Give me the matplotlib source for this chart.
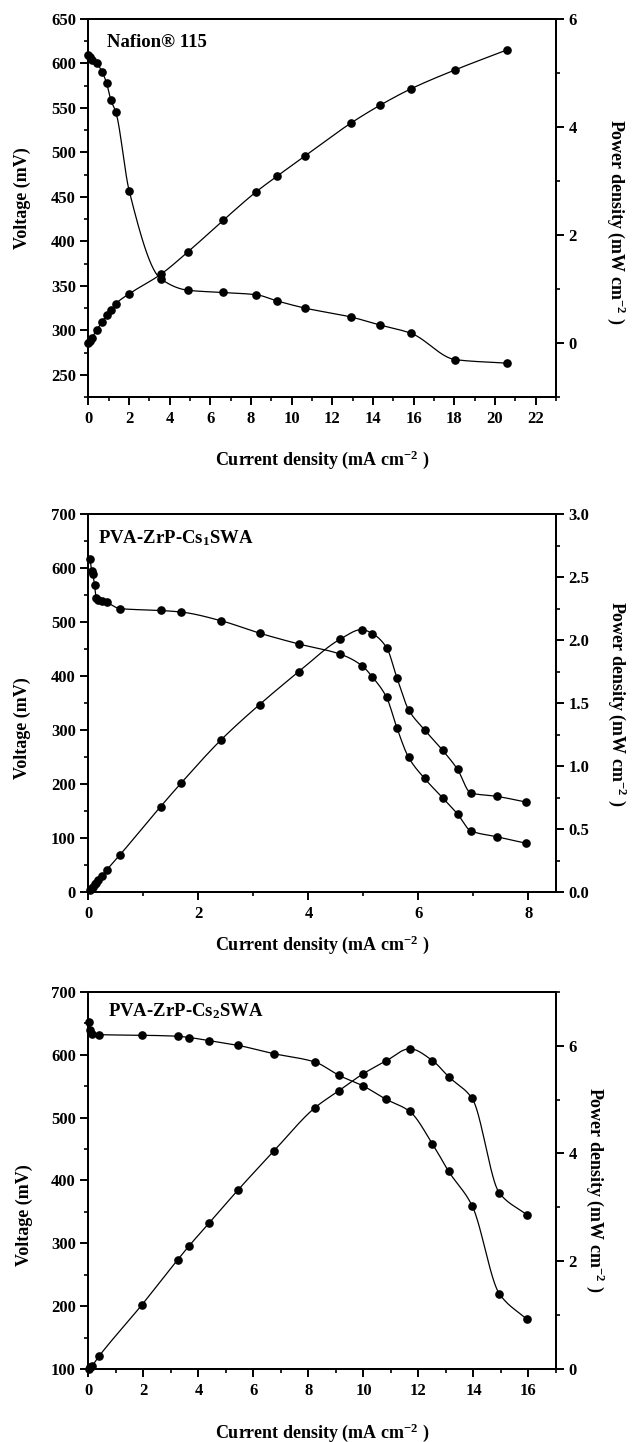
import numpy as np
import matplotlib
matplotlib.use("Agg")
import matplotlib.pyplot as plt
from matplotlib.ticker import MultipleLocator, FormatStrFormatter

# ---- data: current density (mA cm-2), voltage (mV), power density (mW cm-2) ----
nafion_j = [0.0, 0.05, 0.17, 0.41, 0.66, 0.89, 1.10, 1.35, 2.00, 3.55, 4.90, 6.62,
            8.25, 9.28, 10.64, 12.90, 14.33, 15.88, 18.05, 20.60]
nafion_v = [610, 607, 604, 600, 591, 578, 559, 545, 457, 358, 345, 342.5,
            340, 333, 325, 315, 306, 296.5, 267, 263]
nafion_p = [0.0, 0.03, 0.10, 0.24, 0.39, 0.51, 0.61, 0.73, 0.91, 1.27, 1.69, 2.27,
            2.80, 3.09, 3.46, 4.07, 4.40, 4.71, 5.06, 5.43]

cs1_j = [0.027, 0.058, 0.077, 0.11, 0.14, 0.18, 0.24, 0.33, 0.57, 1.31, 1.69, 2.41,
         3.11, 3.82, 4.58, 4.97, 5.16, 5.42, 5.61, 5.82, 6.11, 6.44, 6.71, 6.95,
         7.42, 7.95]
cs1_v = [617, 596, 590, 569, 546, 542, 540, 537, 525.5, 522, 519, 503,
         480, 460, 441, 420, 399, 361, 304, 250, 211, 175, 145, 114,
         103, 91]
cs1_p = [0.017, 0.035, 0.045, 0.063, 0.076, 0.098, 0.13, 0.177, 0.296, 0.68, 0.87, 1.21,
         1.49, 1.75, 2.01, 2.086, 2.054, 1.943, 1.70, 1.45, 1.29, 1.127, 0.976, 0.789,
         0.762, 0.717]

cs2_j = [0.02, 0.07, 0.11, 0.38, 1.93, 3.24, 3.66, 4.40, 5.43, 6.73, 8.24, 9.10,
         10.00, 10.81, 11.68, 12.51, 13.10, 13.95, 14.94, 15.93]
cs2_v = [651, 639, 633, 631.5, 630.6, 629, 627, 622, 614.6, 601.4, 588, 567,
         549.8, 529.2, 509.7, 458, 414.3, 360, 220.3, 180]
cs2_p = [0.01, 0.045, 0.06, 0.245, 1.19, 2.03, 2.29, 2.72, 3.32, 4.04, 4.85, 5.16,
         5.48, 5.71, 5.94, 5.72, 5.42, 5.02, 3.27, 2.87]

titles = ["Nafion\u00ae 115", "PVA-ZrP-Cs$_1$SWA", "PVA-ZrP-Cs$_2$SWA"]
xlabel = "Current density (mA cm$^{-2}$ )"
vlabel = "Voltage (mV)"
plabel = "Power density (mW cm$^{-2}$ )"

plt.rcParams.update({
    "font.family": ["Liberation Serif", "DejaVu Serif"],
    "font.weight": "bold",
    "mathtext.fontset": "custom",
    "mathtext.rm": "Liberation Serif:bold",
    "mathtext.it": "Liberation Serif:italic:bold",
    "mathtext.bf": "Liberation Serif:bold",
    "mathtext.default": "rm",
    "axes.linewidth": 1.4,
})


def pchip(x, y, n=600):
    """Shape-preserving cubic Hermite curve through the measured points."""
    x = np.asarray(x, float)
    y = np.asarray(y, float)
    h = np.diff(x)
    delta = np.diff(y) / h
    d = np.zeros_like(y)
    for k in range(1, len(x) - 1):
        if delta[k - 1] * delta[k] > 0:
            w1 = 2 * h[k] + h[k - 1]
            w2 = h[k] + 2 * h[k - 1]
            d[k] = (w1 + w2) / (w1 / delta[k - 1] + w2 / delta[k])
    d[0] = delta[0]
    d[-1] = delta[-1]
    xs = np.linspace(x[0], x[-1], n)
    idx = np.clip(np.searchsorted(x, xs) - 1, 0, len(x) - 2)
    t = (xs - x[idx]) / h[idx]
    h00 = 2 * t**3 - 3 * t**2 + 1
    h10 = t**3 - 2 * t**2 + t
    h01 = -2 * t**3 + 3 * t**2
    h11 = t**3 - t**2
    ys = (h00 * y[idx] + h10 * h[idx] * d[idx] + h01 * y[idx + 1]
          + h11 * h[idx] * d[idx + 1])
    return xs, ys


fig = plt.figure(figsize=(6.33, 14.42), dpi=100)

panels = [
    dict(bottom=0.7247, j=nafion_j, v=nafion_v, p=nafion_p, title=titles[0],
         xlim=(0, 23), vlim=(225, 650), vmaj=50, vmin=25, plim=(-1, 6), pmaj=2, pmin=1,
         pfmt="%d", title_xy=(0.040, 0.927), vl=(-0.142, 0.526), pl=(1.128, 0.464),
         xl=-0.167),
    dict(bottom=0.3812, j=cs1_j, v=cs1_v, p=cs1_p, title=titles[1],
         xlim=(0, 8.5), vlim=(0, 700), vmaj=100, vmin=50, plim=(0, 3.0), pmaj=0.5,
         pmin=0.25, pfmt="%.1f", title_xy=(0.021, 0.923), vl=(-0.142, 0.435),
         pl=(1.132, 0.50), xl=-0.139),
    dict(bottom=0.0503, j=cs2_j, v=cs2_v, p=cs2_p, title=titles[2],
         xlim=(0, 17), vlim=(100, 700), vmaj=100, vmin=50, plim=(0, 7), pmaj=2, pmin=1,
         pfmt="%d", title_xy=(0.042, 0.934), vl=(-0.138, 0.408), pl=(1.083, 0.477),
         xl=-0.168),
]

left, width, height = 0.1398, 0.7385, 0.2621
fs_tick, fs_label, fs_title = 12, 13, 13.5

for cfg in panels:
    ax = fig.add_axes([left, cfg["bottom"], width, height])
    ax2 = ax.twinx()

    xs, vs = pchip(cfg["j"], cfg["v"])
    ax.plot(xs, vs, color="black", lw=0.9)
    ax.plot(cfg["j"], cfg["v"], "o", color="black", ms=5.2, clip_on=False)

    xs, ps = pchip(cfg["j"], cfg["p"])
    ax2.plot(xs, ps, color="black", lw=0.9)
    ax2.plot(cfg["j"], cfg["p"], "o", color="black", ms=5.2, clip_on=False)

    ax.set_xlim(*cfg["xlim"])
    ax.set_ylim(*cfg["vlim"])
    ax2.set_ylim(*cfg["plim"])

    ax.xaxis.set_major_locator(MultipleLocator(2))
    ax.xaxis.set_minor_locator(MultipleLocator(1))
    ax.yaxis.set_major_locator(MultipleLocator(cfg["vmaj"]))
    ax.yaxis.set_minor_locator(MultipleLocator(cfg["vmin"]))
    ax2.yaxis.set_major_locator(MultipleLocator(cfg["pmaj"]))
    ax2.yaxis.set_minor_locator(MultipleLocator(cfg["pmin"]))
    ax2.yaxis.set_major_formatter(FormatStrFormatter(cfg["pfmt"]))

    for a in (ax, ax2):
        a.tick_params(which="major", direction="out", length=6, width=1.4,
                      labelsize=fs_tick, pad=3)
        a.tick_params(which="minor", direction="out", length=3.2, width=1.2)
    ax.tick_params(axis="x", which="both", top=False, pad=4)
    ax2.tick_params(axis="x", which="both", top=False, bottom=False)
    for s in ax2.spines.values():
        s.set_linewidth(1.4)

    ax.text(cfg["title_xy"][0], cfg["title_xy"][1], cfg["title"], transform=ax.transAxes,
            fontsize=fs_title, fontweight="bold", ha="left", va="baseline")

    ax.set_xlabel(xlabel, fontsize=fs_label, fontweight="bold")
    ax.xaxis.set_label_coords(0.5, cfg["xl"])
    ax.xaxis.label.set_va("center")

    ax.set_ylabel(vlabel, fontsize=fs_label, fontweight="bold")
    ax.yaxis.set_label_coords(*cfg["vl"])
    ax.yaxis.label.set_va("center")

    ax2.set_ylabel(plabel, fontsize=fs_label, fontweight="bold", rotation=270)
    ax2.yaxis.set_label_coords(*cfg["pl"])
    ax2.yaxis.label.set_va("center")
    ax2.yaxis.label.set_ha("center")

fig.savefig("out.png", dpi=100)
